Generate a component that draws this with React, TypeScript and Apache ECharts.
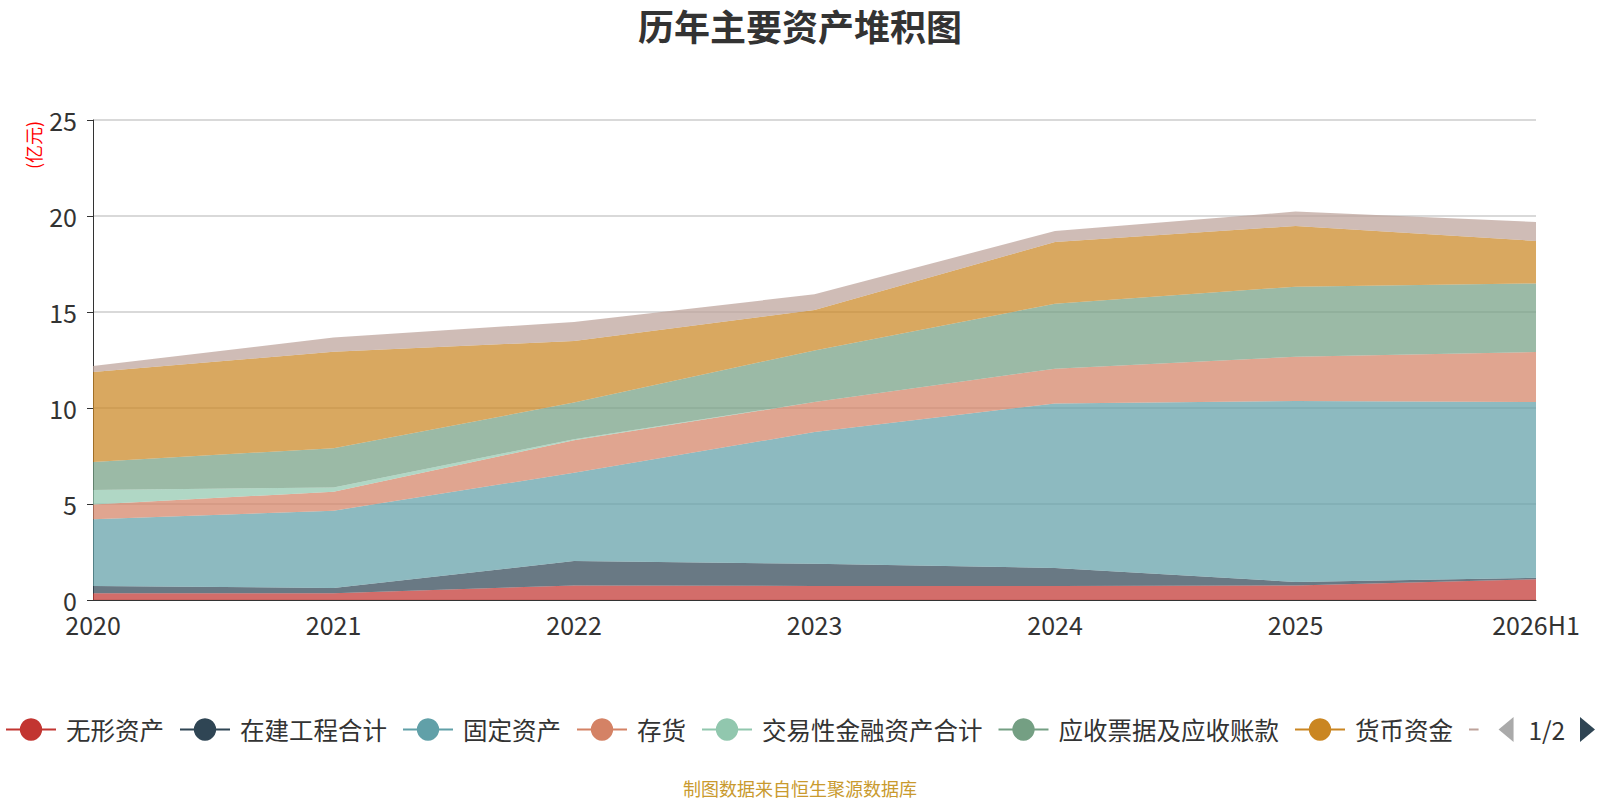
import React, { useEffect, useRef } from "react";
import * as echarts from "echarts";

const categories = ["2020", "2021", "2022", "2023", "2024", "2025", "2026H1"];
const seriesNames = ["无形资产", "在建工程合计", "固定资产", "存货", "交易性金融资产合计", "应收票据及应收账款", "货币资金", "其他资产"];
const intangible = [0.35, 0.35, 0.76, 0.73, 0.73, 0.76, 1.08];
const construction = [0.38, 0.28, 1.27, 1.16, 0.94, 0.18, 0.08];
const fixedAssets = [3.47, 4.02, 4.6, 6.86, 8.57, 9.42, 9.15];
const inventory = [0.78, 0.99, 1.69, 1.56, 1.81, 2.31, 2.61];
const tradingFin = [0.75, 0.22, 0.05, 0, 0, 0, 0];
const receivables = [1.46, 2.05, 1.91, 2.69, 3.38, 3.65, 3.57];
const cash = [4.69, 5.02, 3.21, 2.1, 3.22, 3.16, 2.21];
const others = [0.31, 0.74, 0.99, 0.82, 0.57, 0.75, 0.99];
const colors = ["#c23531", "#2f4554", "#61a0a8", "#d48265", "#91c7ae", "#749f83", "#ca8622", "#bda29a"];
const yTicks = [0, 5, 10, 15, 20, 25];

export default function App() {
  const ref = useRef<HTMLDivElement>(null);
  useEffect(() => {
    if (!ref.current) return;
    const chart = echarts.init(ref.current, undefined, { renderer: "svg" });
    const data = [intangible, construction, fixedAssets, inventory, tradingFin, receivables, cash, others];
    const font = "'Noto Sans CJK SC', 'Noto Sans', sans-serif";
    chart.setOption({
      animation: false,
      color: colors,
      textStyle: { fontFamily: font },
      title: {
        text: "历年主要资产堆积图",
        left: "center",
        top: 2,
        textStyle: { fontSize: 36, fontWeight: "bold", color: "#333", fontFamily: font },
      },
      grid: { left: 93, right: 64, top: 120, bottom: 200 },
      legend: {
        type: "scroll",
        top: 712,
        left: 0,
        right: 2,
        itemWidth: 50,
        itemHeight: 28,
        itemGap: 15,
        textStyle: { fontSize: 24.5, color: "#333", fontFamily: font, padding: [0, 0, 0, 5] },
        lineStyle: { opacity: 1, width: 2 },
        itemStyle: { opacity: 1 },
        pageIconColor: "#2f4554",
        pageIconInactiveColor: "#aaa",
        pageIconSize: [15, 30],
        pageButtonItemGap: 4,
        pageButtonGap: 20,
        pageTextStyle: { fontSize: 24.5, color: "#333" },
        data: seriesNames,
      },
      graphic: [
        {
          type: "text",
          x: 33,
          y: 145,
          rotation: Math.PI / 2,
          style: {
            text: "(亿元)",
            fill: "#ff0000",
            fontSize: 18,
            fontFamily: font,
            textAlign: "center",
            textVerticalAlign: "middle",
          },
        },
        {
          type: "text",
          left: "center",
          top: 779,
          style: { text: "制图数据来自恒生聚源数据库", fill: "#c99a2e", fontSize: 18, fontFamily: font },
        },
      ],
      xAxis: {
        type: "category",
        data: categories,
        boundaryGap: false,
        axisLine: { lineStyle: { color: "#333" } },
        axisTick: { show: false },
        axisLabel: { fontSize: 25, color: "#333", margin: 11 },
      },
      yAxis: {
        type: "value",
        min: yTicks[0],
        max: yTicks[yTicks.length - 1],
        interval: 5,
        axisLine: { show: true, lineStyle: { color: "#333" } },
        axisTick: { show: true, length: 6 },
        axisLabel: { fontSize: 25, color: "#333", margin: 16 },
        splitLine: { lineStyle: { color: "#ccc", width: 1.5 } },
      },
      series: seriesNames.map((name, i) => ({
        name,
        type: "line",
        stack: "total",
        data: data[i],
        symbol: "circle",
        showSymbol: false,
        lineStyle: { width: 0, opacity: 0 },
        areaStyle: { opacity: 0.72 },
        emphasis: { disabled: true },
      })),
    });
    return () => chart.dispose();
  }, []);
  return (
    <div
      ref={ref}
      style={{ position: "fixed", left: 0, top: 0, width: 1600, height: 800, background: "#fff" }}
    />
  );
}
